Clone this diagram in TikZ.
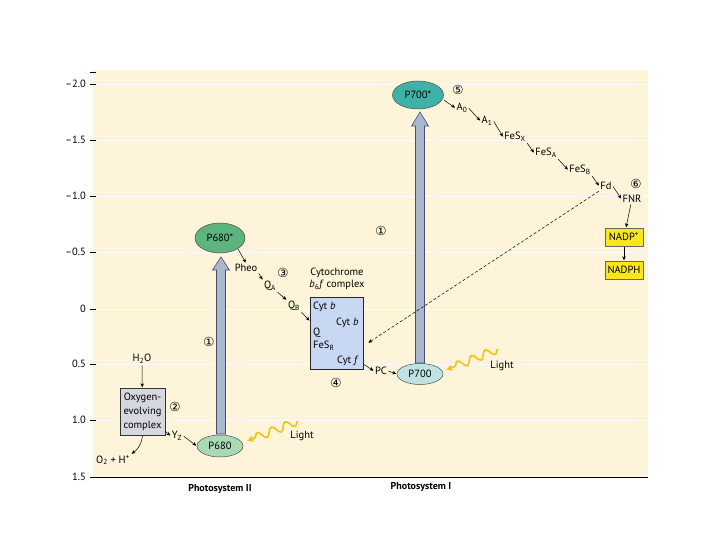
\documentclass[tikz,border=0pt]{standalone}
\usepackage{fontspec}
\setmainfont{PT Sans}
\newfontfamily\circfont{DejaVu Sans}
\usetikzlibrary{arrows.meta,shapes.geometric,decorations.pathmorphing,calc}
\definecolor{cream}{HTML}{FEF4DA}
\definecolor{greenD}{HTML}{5DB47E}
\definecolor{greenL}{HTML}{AAD9B6}
\definecolor{tealD}{HTML}{3FB2A6}
\definecolor{tealL}{HTML}{BEE3E1}
\definecolor{arrfill}{HTML}{A9B7CF}
\definecolor{arrdraw}{HTML}{46506A}
\definecolor{cytblue}{HTML}{C9D8F2}
\definecolor{oecgray}{HTML}{D6D8E0}
\definecolor{nadpy}{HTML}{FAE61E}
\definecolor{lighty}{HTML}{F4C41A}
\begin{document}
\begin{tikzpicture}[x=1pt,y=-1pt,font=\fontsize{10.5}{12}\selectfont,
  lab/.style={inner sep=1pt},
  arr/.style={-{Stealth[length=4pt,width=3.5pt]},line width=0.5pt,shorten >=0.5pt,shorten <=0.5pt},
  num/.style={font=\circfont\fontsize{12.5}{13}\selectfont,inner sep=0pt},
  pcell/.style={ellipse,draw=black!70,line width=0.5pt,inner sep=0pt},
  bigarrow/.style={fill=arrfill,draw=arrdraw,line width=0.6pt},
  ybox/.style={draw=black!60,fill=nadpy,minimum width=38pt,minimum height=18pt,inner sep=1pt},
  lightwave/.style={lighty,line width=1.7pt,decorate,decoration={snake,amplitude=4pt,segment length=15pt,post length=6pt},-{Latex[length=6pt,width=7pt]}},
  axlab/.style={font=\bfseries\fontsize{10}{11}\selectfont}
]
\useasboundingbox (0,0) rectangle (720,540);
\fill[white] (0,0) rectangle (720,540);
\fill[cream] (93,70) rectangle (648,477);
\foreach \y in {84,140,196,252,309,364,420} \draw[white,line width=0.9pt] (93,\y) -- (648,\y);
\draw[line width=0.9pt] (93,477) -- (648,477);
\draw[line width=0.6pt] (90,72) -- (96,72);
\foreach \y/\l in {84/–2.0,140/–1.5,196/–1.0,252/–0.5,309/0,364/0.5,420/1.0,477/1.5}{
  \draw[line width=0.6pt] (90,\y) -- (96,\y);
  \node[anchor=east,inner sep=0pt] at (86,\y) {\l};
}
\node[axlab] (psii) at (220,489) {Photosystem II};
\node[axlab] (psi) at (421,487) {Photosystem I};

% PSII
\node[pcell,fill=greenD,minimum width=50pt,minimum height=30pt] (P680s) at (220,238) {P680*};
\node[pcell,fill=greenL,minimum width=46pt,minimum height=22pt] (P680) at (220,446) {P680};
\filldraw[bigarrow] (216.5,434) -- (216.5,270) -- (212.5,270) -- (221,257) -- (229.5,270) -- (225.5,270) -- (225.5,434) -- cycle;
\node[num] (n1a) at (209,342) {①};
\node[lab] (H2O) at (142,359) {H\textsubscript{2}O};
\node[draw=black!80,fill=oecgray,minimum width=45pt,minimum height=47pt,inner sep=1pt,align=center,font=\fontsize{10.5}{14}\selectfont] (OEC) at (142.5,411.5) {Oxygen-\\evolving\\complex};
\node[num] (n2) at (175,407) {②};
\node[lab] (O2) at (113,460) {O\textsubscript{2} + H\textsuperscript{+}};
\node[lab] (Yz) at (177,436) {Y\textsubscript{Z}};
\draw[arr] (H2O) -- (OEC);
\draw[arr] (OEC.south) to[bend left=25] (O2.north east);
\draw[arr] (OEC.east |- 0,431) -- (Yz.west);
\draw[arr] (Yz.east) -- (P680.west);
\coordinate (L1s) at (298,421);
\coordinate (L1e) at (247,441);
\draw[lightwave] (L1s) -- (L1e);
\node[lab] (light1) at (302,436) {Light};

% chain to cytochrome
\node[lab] (Pheo) at (246,268) {Pheo};
\node[num] (n3) at (283,273) {③};
\node[lab] (QA) at (270,286) {Q\textsubscript{A}};
\node[lab] (QB) at (294,306) {Q\textsubscript{B}};
\draw[arr] (P680s.south east) -- (Pheo.north);
\draw[arr] (Pheo.south east) -- (QA.north west);
\draw[arr] (QA.south east) -- (QB.north west);
\node[lab,align=center,font=\fontsize{10.5}{11.5}\selectfont] (cyttitle) at (337,279) {Cytochrome\\\textit{b}\textsubscript{6}\textit{f} complex};
\node[draw=black!85,fill=cytblue,minimum width=53pt,minimum height=72pt,inner sep=0pt] (cyt) at (336.5,333) {};
\node[lab,anchor=west] (cb1) at (312,307) {Cyt \textit{b}};
\node[lab,anchor=west] (cb2) at (335,323) {Cyt \textit{b}};
\node[lab,anchor=west] (cq) at (312,333) {Q};
\node[lab,anchor=west] (cfes) at (312,346) {FeS\textsubscript{R}};
\node[lab,anchor=west] (cf) at (336,361) {Cyt \textit{f}};
\draw[arr] (QB.south east) -- (cyt.west |- 0,321);
\node[num] (n4) at (336,383) {④};
\node[lab] (PC) at (381,371) {PC};
\draw[arr] (cyt.east |- 0,364) -- (PC.west);

% PSI
\node[pcell,fill=tealD,minimum width=51pt,minimum height=28pt] (P700s) at (418,95) {P700*};
\node[pcell,fill=tealL,minimum width=46pt,minimum height=21pt] (P700) at (420,374) {P700};
\filldraw[bigarrow] (415.5,363) -- (415.5,126) -- (411.5,126) -- (420,112) -- (428.5,126) -- (424.5,126) -- (424.5,363) -- cycle;
\node[num] (n1b) at (381,231) {①};
\draw[arr] (PC.east) -- (P700.west);
\coordinate (L2s) at (498,349);
\coordinate (L2e) at (446,370);
\draw[lightwave] (L2s) -- (L2e);
\node[lab] (light2) at (502,366) {Light};
\node[num] (n5) at (458,90) {⑤};
\node[lab] (A0) at (462,108) {A\textsubscript{0}};
\node[lab] (A1) at (487,121) {A\textsubscript{1}};
\node[lab] (FeSX) at (515,137) {FeS\textsubscript{X}};
\node[lab] (FeSA) at (546,153) {FeS\textsubscript{A}};
\node[lab] (FeSB) at (580,170) {FeS\textsubscript{B}};
\node[lab] (Fd) at (606,186) {Fd};
\node[lab] (FNR) at (632,199) {FNR};
\node[num] (n6) at (636,184) {⑥};
\node[ybox] (NADPp) at (624,237) {NADP\textsuperscript{+}};
\node[ybox] (NADPH) at (624,270) {NADPH};
\draw[arr] (P700s.east) ++(0,5) -- (A0.west);
\draw[arr] (A0.east) -- (A1.west);
\draw[arr] (A1.east) -- (FeSX.west);
\draw[arr] (FeSX.south east) -- (FeSA.west);
\draw[arr] (FeSA.south east) -- (FeSB.west);
\draw[arr] (FeSB.south east) -- (Fd.west);
\draw[arr] (Fd.east) -- (FNR.west);
\draw[arr] (FNR) -- (NADPp);
\draw[arr] (NADPp) -- (NADPH);
\coordinate (dashend) at (368,343);
\draw[arr,dashed,dash pattern=on 3pt off 2pt] (Fd.south west) -- (dashend);
\end{tikzpicture}
\end{document}
